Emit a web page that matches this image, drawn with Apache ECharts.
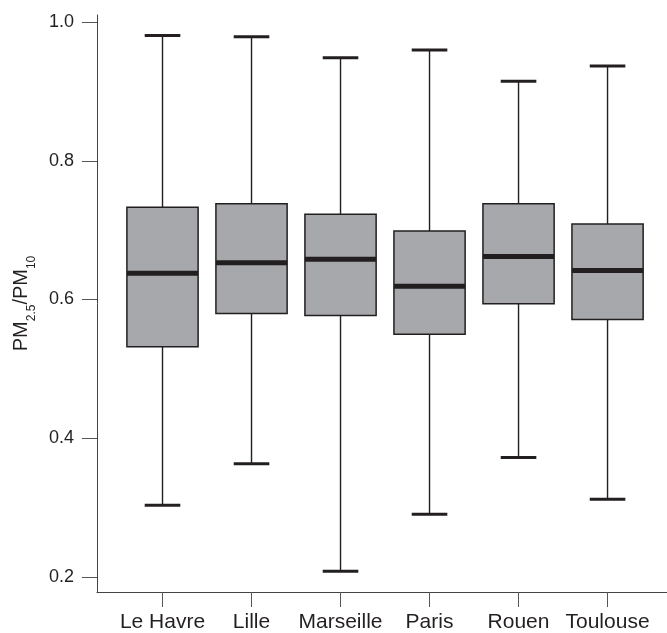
<!DOCTYPE html>
<html>
<head>
<meta charset="utf-8">
<script src="https://cdn.jsdelivr.net/npm/echarts@6/dist/echarts.min.js"></script>
<style>
html,body{margin:0;padding:0;background:#fff;}
#chart{width:667px;height:633px;}
</style>
</head>
<body>
<div id="chart"></div>
<script>
var categories = ['Le Havre', 'Lille', 'Marseille', 'Paris', 'Rouen', 'Toulouse'];
var lowerWhisker = [0.303, 0.363, 0.208, 0.290, 0.372, 0.312];
var q1Values     = [0.532, 0.580, 0.577, 0.550, 0.594, 0.571];
var medianValues = [0.638, 0.653, 0.658, 0.619, 0.662, 0.642];
var q3Values     = [0.733, 0.738, 0.723, 0.699, 0.738, 0.709];
var upperWhisker = [0.981, 0.979, 0.949, 0.960, 0.915, 0.937];
var yTickValues = [0.2, 0.4, 0.6, 0.8, 1.0];

var data = categories.map(function (c, i) {
  return [i, lowerWhisker[i], q1Values[i], medianValues[i], q3Values[i], upperWhisker[i]];
});

var ink = '#231f20';
var chart = echarts.init(document.getElementById('chart'), null, {renderer: 'canvas'});

function renderItem(params, api) {
  var x = api.value(0);
  var lo = api.coord([x, api.value(1)]);
  var q1 = api.coord([x, api.value(2)]);
  var med = api.coord([x, api.value(3)]);
  var q3 = api.coord([x, api.value(4)]);
  var hi = api.coord([x, api.value(5)]);
  var unit = api.size([1, 0])[0];
  var bw = unit * 0.8;
  var cw = unit * 0.4;
  var cx = lo[0];
  return {
    type: 'group',
    children: [
      {type: 'line', shape: {x1: cx, y1: hi[1], x2: cx, y2: lo[1]}, style: {stroke: ink, lineWidth: 1.4}},
      {type: 'line', shape: {x1: cx - cw / 2, y1: hi[1], x2: cx + cw / 2, y2: hi[1]}, style: {stroke: ink, lineWidth: 3}},
      {type: 'line', shape: {x1: cx - cw / 2, y1: lo[1], x2: cx + cw / 2, y2: lo[1]}, style: {stroke: ink, lineWidth: 3}},
      {type: 'rect', shape: {x: cx - bw / 2, y: q3[1], width: bw, height: q1[1] - q3[1]}, style: {fill: '#a7a8ab', stroke: ink, lineWidth: 1.5}},
      {type: 'line', shape: {x1: cx - bw / 2, y1: med[1], x2: cx + bw / 2, y2: med[1]}, style: {stroke: ink, lineWidth: 5}}
    ]
  };
}

chart.setOption({
  animation: false,
  backgroundColor: '#fff',
  grid: {left: 97, right: 0, top: 15, bottom: 41},
  xAxis: {
    type: 'value',
    min: -0.736,
    max: 5.668,
    splitLine: {show: false},
    axisLine: {show: true, onZero: false, lineStyle: {color: '#444', width: 1}},
    axisTick: {show: true, length: 15, customValues: [0, 1, 2, 3, 4, 5], lineStyle: {color: '#555', width: 1}},
    axisLabel: {
      customValues: [0, 1, 2, 3, 4, 5],
      margin: 20,
      fontFamily: 'Liberation Sans',
      fontSize: 21,
      color: '#231f20',
      formatter: function (v) { return categories[Math.round(v)]; }
    }
  },
  yAxis: {
    type: 'value',
    min: 0.178,
    max: 1.0105,
    splitLine: {show: false},
    axisLine: {show: true, onZero: false, lineStyle: {color: '#444', width: 1}},
    axisTick: {show: true, length: 15, customValues: yTickValues, lineStyle: {color: '#555', width: 1}},
    axisLabel: {
      customValues: yTickValues,
      margin: 23,
      fontFamily: 'Liberation Sans',
      fontSize: 18,
      color: '#231f20',
      formatter: function (v) { return v.toFixed(1); }
    },
    name: '{a|PM}{s|2.5}{a|/PM}{s|10}',
    nameLocation: 'middle',
    nameGap: 59,
    nameTextStyle: {
      color: '#231f20',
      rich: {
        a: {fontFamily: 'Liberation Sans', fontSize: 20, lineHeight: 20, verticalAlign: 'top', color: '#231f20'},
        s: {fontFamily: 'Liberation Sans', fontSize: 12, lineHeight: 27, verticalAlign: 'bottom', color: '#231f20'}
      }
    }
  },
  series: [{
    type: 'custom',
    renderItem: renderItem,
    encode: {x: 0, y: [1, 2, 3, 4, 5]},
    data: data
  }]
});
</script>
</body>
</html>
